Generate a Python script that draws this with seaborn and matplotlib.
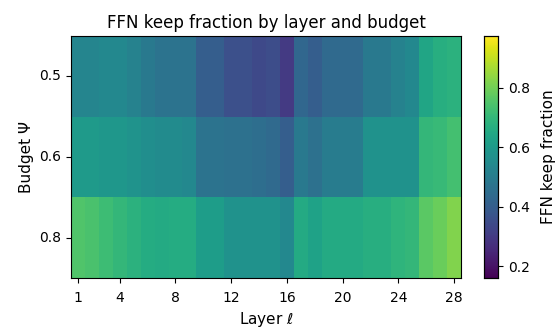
import numpy as np
import pandas as pd
import matplotlib
matplotlib.use("Agg")
import matplotlib.pyplot as plt
import seaborn as sns

layers = list(range(1, 29))
budgets = ["0.5", "0.6", "0.8"]

keep_05 = [0.53, 0.53, 0.54, 0.54, 0.52, 0.49, 0.47, 0.47, 0.47, 0.40, 0.40, 0.36, 0.36, 0.34,
           0.35, 0.30, 0.43, 0.40, 0.44, 0.44, 0.44, 0.49, 0.49, 0.52, 0.54, 0.64, 0.67, 0.68]
keep_06 = [0.60, 0.60, 0.59, 0.59, 0.58, 0.56, 0.55, 0.55, 0.54, 0.47, 0.47, 0.46, 0.46, 0.45,
           0.44, 0.40, 0.49, 0.46, 0.50, 0.50, 0.50, 0.575, 0.575, 0.575, 0.575, 0.70, 0.71, 0.73]
keep_08 = [0.75, 0.74, 0.72, 0.70, 0.68, 0.66, 0.655, 0.66, 0.66, 0.61, 0.61, 0.575, 0.575, 0.575,
           0.575, 0.54, 0.655, 0.63, 0.655, 0.655, 0.655, 0.67, 0.67, 0.69, 0.70, 0.765, 0.79, 0.82]

xtick_layers = [1, 4, 8, 12, 16, 20, 24, 28]

df = pd.DataFrame([keep_05, keep_06, keep_08], index=budgets, columns=layers)

fig = plt.figure(figsize=(5.57, 3.29), dpi=100)
ax = fig.add_axes([71 / 557, 1 - 278 / 329, 390 / 557, 242 / 329])
cax = fig.add_axes([484 / 557, 1 - 278 / 329, 14 / 557, 242 / 329])

sns.heatmap(df, ax=ax, cbar_ax=cax, cmap="viridis", vmin=0.16, vmax=0.975,
            xticklabels=False, yticklabels=budgets,
            cbar_kws={"ticks": [0.2, 0.4, 0.6, 0.8]})

ax.set_xticks([layers.index(l) + 0.5 for l in xtick_layers])
ax.set_xticklabels([str(l) for l in xtick_layers], rotation=0)
ax.set_yticklabels(budgets, rotation=0)
ax.tick_params(axis="both", labelsize=10, length=3.5)
ax.tick_params(axis="x", pad=5.5)
for s in ax.spines.values():
    s.set_visible(True)
    s.set_linewidth(0.8)
ax.set_xlabel(r"Layer $\ell$", fontsize=11)
ax.set_ylabel("Budget Ψ", fontsize=11)
ax.set_title("FFN keep fraction by layer and budget", fontsize=12)
cax.tick_params(labelsize=10, length=3.5)
cax.set_ylabel("FFN keep fraction", fontsize=11, labelpad=8)
for s in cax.spines.values():
    s.set_visible(True)
    s.set_linewidth(0.8)

fig.savefig("out.png", dpi=100)
